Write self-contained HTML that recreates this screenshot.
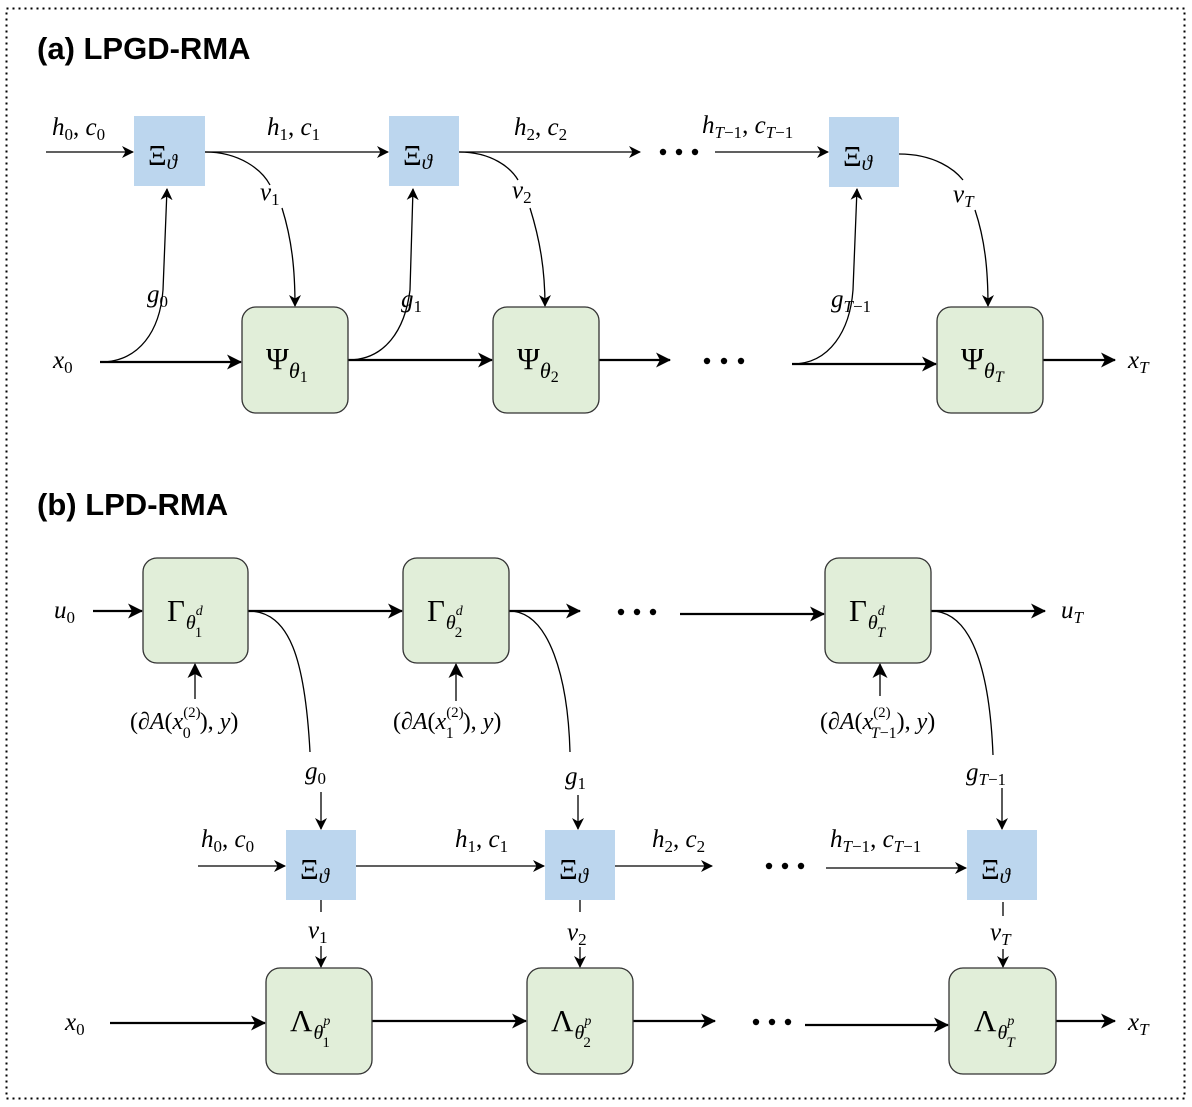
<!DOCTYPE html>
<html><head><meta charset="utf-8"><style>
html,body{margin:0;padding:0;background:#fff;}
svg{display:block;}
text{font-family:"Liberation Serif",serif;fill:#000;}
.i{font-style:italic;}
.t{font-family:"Liberation Sans",sans-serif;font-weight:bold;}
</style></head><body>
<svg width="1192" height="1107" viewBox="0 0 1192 1107" xmlns="http://www.w3.org/2000/svg">
<defs>
<marker id="a" markerWidth="12" markerHeight="12" refX="11" refY="6" orient="auto" markerUnits="userSpaceOnUse" viewBox="0 0 12 12">
<path d="M0,0 L12,6 L0,12 L3.5,6 Z" fill="#000"/></marker>
<marker id="b" markerWidth="15" markerHeight="15" refX="14" refY="7.5" orient="auto" markerUnits="userSpaceOnUse" viewBox="0 0 15 15">
<path d="M0,0 L15,7.5 L0,15 L4,7.5 Z" fill="#000"/></marker>
</defs>
<rect x="6.5" y="8.5" width="1178" height="1090" fill="none" stroke="#000" stroke-width="2" stroke-dasharray="2,4"/>
<text class="t" x="37" y="59" font-size="31">(a) LPGD-RMA</text>
<text class="t" x="37" y="515" font-size="31">(b) LPD-RMA</text>

<!-- (a) -->
<g stroke="#000" fill="none" stroke-width="1.3">
<path d="M46,152 H133" marker-end="url(#a)"/>
<path d="M205,152 H388" marker-end="url(#a)"/>
<path d="M459,152 H640" marker-end="url(#a)"/>
<path d="M715,152 H828" marker-end="url(#a)"/>
<path d="M100,362 C140,362 160,330 163,290 L167,189" marker-end="url(#a)"/>
<path d="M205,152 C240,152 262,170 270,185 M282,208 C292,240 295,270 295,306" marker-end="url(#a)"/>
<path d="M348,360 C385,360 405,330 410,290 L413,189" marker-end="url(#a)"/>
<path d="M459,152 C492,152 511,168 518,180 M530,208 C540,240 545,270 545,306" marker-end="url(#a)"/>
<path d="M792,364 C830,364 850,330 853,290 L857,189" marker-end="url(#a)"/>
<path d="M899,154 C935,154 955,170 963,180 M975,210 C985,240 988,270 988,306" marker-end="url(#a)"/>
</g>
<g stroke="#000" fill="none" stroke-width="2.2">
<path d="M100,362 H241" marker-end="url(#b)"/>
<path d="M348,360 H492" marker-end="url(#b)"/>
<path d="M599,360 H670" marker-end="url(#b)"/>
<path d="M792,364 H936" marker-end="url(#b)"/>
<path d="M1043,360 H1115" marker-end="url(#b)"/>
</g>
<g fill="#bcd6ee">
<rect x="134" y="116" width="71" height="70"/>
<rect x="389" y="116" width="70" height="70"/>
<rect x="829" y="117" width="70" height="70"/>
</g>
<g fill="#e1eed9" stroke="#333" stroke-width="1.3">
<rect x="242" y="307" width="106" height="106" rx="14"/>
<rect x="493" y="307" width="106" height="106" rx="14"/>
<rect x="937" y="307" width="106" height="106" rx="14"/>
</g>
<g>
<text x="148" y="165"><tspan font-size="29">Ξ</tspan><tspan class="i" font-size="21" dy="4">ϑ</tspan></text>
<text x="403" y="165"><tspan font-size="29">Ξ</tspan><tspan class="i" font-size="21" dy="4">ϑ</tspan></text>
<text x="843" y="166"><tspan font-size="29">Ξ</tspan><tspan class="i" font-size="21" dy="4">ϑ</tspan></text>
<text x="266" y="369"><tspan font-size="31">Ψ</tspan><tspan class="i" font-size="22" dy="9">θ</tspan><tspan font-size="16" dy="4">1</tspan></text>
<text x="517" y="369"><tspan font-size="31">Ψ</tspan><tspan class="i" font-size="22" dy="9">θ</tspan><tspan font-size="16" dy="4">2</tspan></text>
<text x="961" y="369"><tspan font-size="31">Ψ</tspan><tspan class="i" font-size="22" dy="9">θ</tspan><tspan class="i" font-size="16" dy="4">T</tspan></text>
</g>
<g font-size="25">
<text x="52" y="135"><tspan class="i">h</tspan><tspan font-size="17" dy="5">0</tspan><tspan dy="-5">, </tspan><tspan class="i">c</tspan><tspan font-size="17" dy="5">0</tspan></text>
<text x="267" y="135"><tspan class="i">h</tspan><tspan font-size="17" dy="5">1</tspan><tspan dy="-5">, </tspan><tspan class="i">c</tspan><tspan font-size="17" dy="5">1</tspan></text>
<text x="514" y="135"><tspan class="i">h</tspan><tspan font-size="17" dy="5">2</tspan><tspan dy="-5">, </tspan><tspan class="i">c</tspan><tspan font-size="17" dy="5">2</tspan></text>
<text x="702" y="133"><tspan class="i">h</tspan><tspan class="i" font-size="17" dy="5">T</tspan><tspan font-size="17">−1</tspan><tspan dy="-5">, </tspan><tspan class="i">c</tspan><tspan class="i" font-size="17" dy="5">T</tspan><tspan font-size="17">−1</tspan></text>
<text x="53" y="368"><tspan class="i">x</tspan><tspan font-size="17" dy="5">0</tspan></text>
<text x="1128" y="368"><tspan class="i">x</tspan><tspan class="i" font-size="17" dy="5">T</tspan></text>
<text x="260" y="200"><tspan class="i">v</tspan><tspan font-size="17" dy="5">1</tspan></text>
<text x="512" y="198"><tspan class="i">v</tspan><tspan font-size="17" dy="5">2</tspan></text>
<text x="953" y="202"><tspan class="i">v</tspan><tspan class="i" font-size="17" dy="5">T</tspan></text>
<text x="147" y="302"><tspan class="i">g</tspan><tspan font-size="17" dy="5">0</tspan></text>
<text x="401" y="307"><tspan class="i">g</tspan><tspan font-size="17" dy="5">1</tspan></text>
<text x="831" y="307"><tspan class="i">g</tspan><tspan class="i" font-size="17" dy="5">T</tspan><tspan font-size="17">−1</tspan></text>
</g>
<g fill="#000">
<circle cx="663" cy="152" r="3.2"/><circle cx="679" cy="152" r="3.2"/><circle cx="695" cy="152" r="3.2"/>
<circle cx="707" cy="361" r="3.2"/><circle cx="724" cy="361" r="3.2"/><circle cx="741" cy="361" r="3.2"/>
</g>

<!-- (b) -->
<g stroke="#000" fill="none" stroke-width="2.2">
<path d="M93,611 H142" marker-end="url(#b)"/>
<path d="M248,611 H402" marker-end="url(#b)"/>
<path d="M509,611 H580" marker-end="url(#b)"/>
<path d="M680,614 H824" marker-end="url(#b)"/>
<path d="M931,611 H1045" marker-end="url(#b)"/>
<path d="M110,1023 H265" marker-end="url(#b)"/>
<path d="M372,1021 H526" marker-end="url(#b)"/>
<path d="M633,1021 H715" marker-end="url(#b)"/>
<path d="M805,1025 H948" marker-end="url(#b)"/>
<path d="M1056,1021 H1115" marker-end="url(#b)"/>
</g>
<g stroke="#000" fill="none" stroke-width="1.3">
<path d="M195,699 V664" marker-end="url(#b)"/>
<path d="M456,701 V664" marker-end="url(#b)"/>
<path d="M880,696 V664" marker-end="url(#b)"/>
<path d="M248,611 C290,611 305,660 310,752"/>
<path d="M509,611 C550,611 568,680 570,752"/>
<path d="M931,611 C975,611 990,680 993,755"/>
<path d="M321,792 V829" marker-end="url(#a)"/>
<path d="M578,795 V829" marker-end="url(#a)"/>
<path d="M1002,788 V829" marker-end="url(#a)"/>
<path d="M198,866 H285" marker-end="url(#a)"/>
<path d="M355,866 H544" marker-end="url(#a)"/>
<path d="M615,866 H712" marker-end="url(#a)"/>
<path d="M826,868 H966" marker-end="url(#a)"/>
<path d="M321,900 V912 M321,946 V967" marker-end="url(#a)"/>
<path d="M580,900 V912 M580,947 V967" marker-end="url(#a)"/>
<path d="M1003,902 V916 M1003,949 V967" marker-end="url(#a)"/>
</g>
<g fill="#e1eed9" stroke="#333" stroke-width="1.3">
<rect x="143" y="558" width="105" height="105" rx="14"/>
<rect x="403" y="558" width="106" height="105" rx="14"/>
<rect x="825" y="558" width="106" height="105" rx="14"/>
<rect x="266" y="968" width="106" height="106" rx="14"/>
<rect x="527" y="968" width="106" height="106" rx="14"/>
<rect x="949" y="968" width="107" height="106" rx="14"/>
</g>
<g fill="#bcd6ee">
<rect x="286" y="830" width="70" height="70"/>
<rect x="545" y="830" width="70" height="70"/>
<rect x="967" y="830" width="70" height="70"/>
</g>
<g>
<text x="300" y="879"><tspan font-size="29">Ξ</tspan><tspan class="i" font-size="21" dy="4">ϑ</tspan></text>
<text x="559" y="879"><tspan font-size="29">Ξ</tspan><tspan class="i" font-size="21" dy="4">ϑ</tspan></text>
<text x="981" y="879"><tspan font-size="29">Ξ</tspan><tspan class="i" font-size="21" dy="4">ϑ</tspan></text>

<text x="167" y="621"><tspan font-size="31">Γ</tspan><tspan class="i" font-size="20" dy="8" dx="1">θ</tspan><tspan class="i" font-size="14" dy="-14">d</tspan><tspan font-size="15" dy="22" dx="-8">1</tspan></text>
<text x="427" y="621"><tspan font-size="31">Γ</tspan><tspan class="i" font-size="20" dy="8" dx="1">θ</tspan><tspan class="i" font-size="14" dy="-14">d</tspan><tspan font-size="15" dy="22" dx="-8">2</tspan></text>
<text x="849" y="621"><tspan font-size="31">Γ</tspan><tspan class="i" font-size="20" dy="8" dx="1">θ</tspan><tspan class="i" font-size="14" dy="-14">d</tspan><tspan class="i" font-size="15" dy="22" dx="-8">T</tspan></text>

<text x="290" y="1031"><tspan font-size="31">Λ</tspan><tspan class="i" font-size="20" dy="8" dx="1">θ</tspan><tspan class="i" font-size="14" dy="-14">p</tspan><tspan font-size="15" dy="22" dx="-8">1</tspan></text>
<text x="551" y="1031"><tspan font-size="31">Λ</tspan><tspan class="i" font-size="20" dy="8" dx="1">θ</tspan><tspan class="i" font-size="14" dy="-14">p</tspan><tspan font-size="15" dy="22" dx="-8">2</tspan></text>
<text x="974" y="1031"><tspan font-size="31">Λ</tspan><tspan class="i" font-size="20" dy="8" dx="1">θ</tspan><tspan class="i" font-size="14" dy="-14">p</tspan><tspan class="i" font-size="15" dy="22" dx="-8">T</tspan></text>
</g>
<g font-size="25">
<text x="54" y="618"><tspan class="i">u</tspan><tspan font-size="17" dy="5">0</tspan></text>
<text x="1061" y="618"><tspan class="i">u</tspan><tspan class="i" font-size="17" dy="5">T</tspan></text>
<text x="65" y="1030"><tspan class="i">x</tspan><tspan font-size="17" dy="5">0</tspan></text>
<text x="1128" y="1030"><tspan class="i">x</tspan><tspan class="i" font-size="17" dy="5">T</tspan></text>
<text x="305" y="779"><tspan class="i">g</tspan><tspan font-size="17" dy="5">0</tspan></text>
<text x="565" y="784"><tspan class="i">g</tspan><tspan font-size="17" dy="5">1</tspan></text>
<text x="966" y="780"><tspan class="i">g</tspan><tspan class="i" font-size="17" dy="5">T</tspan><tspan font-size="17">−1</tspan></text>
<text x="308" y="938"><tspan class="i">v</tspan><tspan font-size="17" dy="5">1</tspan></text>
<text x="567" y="940"><tspan class="i">v</tspan><tspan font-size="17" dy="5">2</tspan></text>
<text x="990" y="940"><tspan class="i">v</tspan><tspan class="i" font-size="17" dy="5">T</tspan></text>
<text x="201" y="847"><tspan class="i">h</tspan><tspan font-size="17" dy="5">0</tspan><tspan dy="-5">, </tspan><tspan class="i">c</tspan><tspan font-size="17" dy="5">0</tspan></text>
<text x="455" y="847"><tspan class="i">h</tspan><tspan font-size="17" dy="5">1</tspan><tspan dy="-5">, </tspan><tspan class="i">c</tspan><tspan font-size="17" dy="5">1</tspan></text>
<text x="652" y="847"><tspan class="i">h</tspan><tspan font-size="17" dy="5">2</tspan><tspan dy="-5">, </tspan><tspan class="i">c</tspan><tspan font-size="17" dy="5">2</tspan></text>
<text x="830" y="847"><tspan class="i">h</tspan><tspan class="i" font-size="17" dy="5">T</tspan><tspan font-size="17">−1</tspan><tspan dy="-5">, </tspan><tspan class="i">c</tspan><tspan class="i" font-size="17" dy="5">T</tspan><tspan font-size="17">−1</tspan></text>
</g>
<g font-size="24">
<text x="130" y="729">(∂<tspan class="i">A</tspan>(<tspan class="i">x</tspan><tspan font-size="15" dy="-12">(2)</tspan><tspan font-size="16" dy="21" dx="-18">0</tspan><tspan dy="-9" dx="9">), </tspan><tspan class="i">y</tspan>)</text>
<text x="393" y="729">(∂<tspan class="i">A</tspan>(<tspan class="i">x</tspan><tspan font-size="15" dy="-12">(2)</tspan><tspan font-size="16" dy="21" dx="-18">1</tspan><tspan dy="-9" dx="9">), </tspan><tspan class="i">y</tspan>)</text>
<text x="820" y="729">(∂<tspan class="i">A</tspan>(<tspan class="i">x</tspan><tspan font-size="15" dy="-12">(2)</tspan><tspan font-size="16" dy="21" dx="-20"><tspan class="i">T</tspan>−1</tspan><tspan dy="-9">), </tspan><tspan class="i">y</tspan>)</text>
</g>
<g fill="#000">
<circle cx="621" cy="612" r="3.2"/><circle cx="637" cy="612" r="3.2"/><circle cx="653" cy="612" r="3.2"/>
<circle cx="769" cy="866" r="3.2"/><circle cx="785" cy="866" r="3.2"/><circle cx="801" cy="866" r="3.2"/>
<circle cx="756" cy="1022" r="3.2"/><circle cx="772" cy="1022" r="3.2"/><circle cx="788" cy="1022" r="3.2"/>
</g>
</svg>
</body></html>
